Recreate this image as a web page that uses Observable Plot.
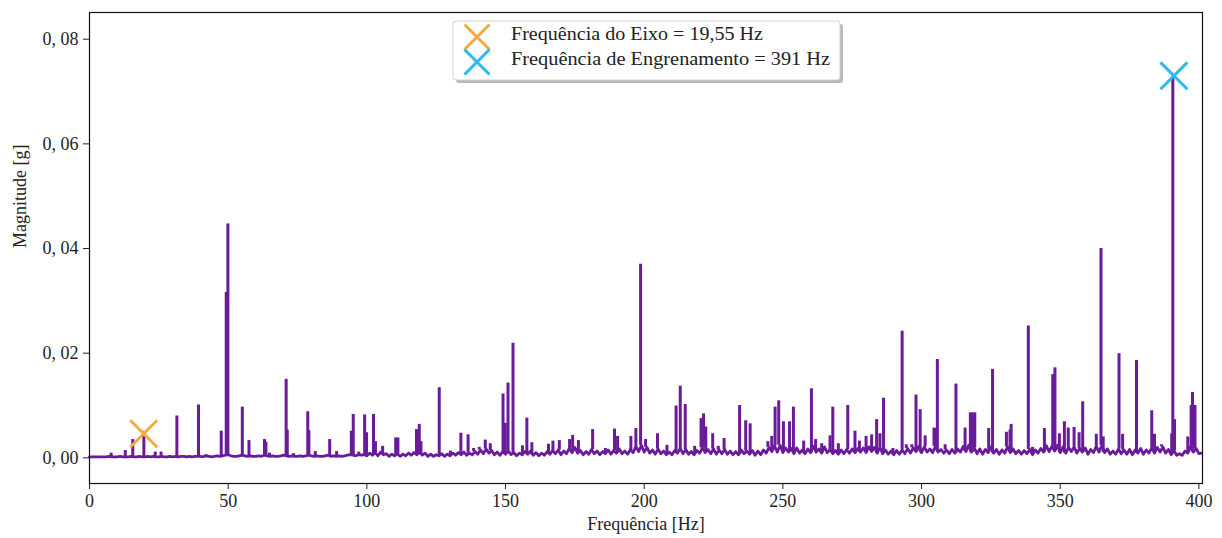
<!DOCTYPE html>
<html>
<head>
<meta charset="utf-8">
<script src="https://cdn.jsdelivr.net/npm/d3@7"></script>
<script src="https://cdn.jsdelivr.net/npm/@observablehq/plot@0.6"></script>
<style>
  html, body { margin: 0; padding: 0; background: #fff; }
  #wrap { position: relative; width: 1222px; height: 538px; font-family: "Liberation Serif", serif; }
  #legend { position: absolute; left: 0; top: 0; pointer-events: none; }
</style>
</head>
<body>
<div id="wrap"></div>
<script>
// ---- data ----
// Peak frequencies (Hz) and magnitudes (g)
const peakFreq = [7.8,12.9,15.6,19.6,23.7,25.8,31.5,39.3,42.0,47.5,49.3,49.9,55.1,57.5,63.1,63.6,64.9,70.9,71.3,73.6,78.7,79.1,81.4,86.6,89.1,94.4,95.1,97.1,99.2,99.9,102.4,103.1,105.7,110.4,111.2,117.9,118.9,119.5,126.1,130.1,133.9,136.5,138.5,140.5,142.7,144.5,149.1,149.9,150.9,152.7,156.1,157.7,159.5,165.5,167.1,169.4,173.1,174.2,176.3,181.4,186.0,189.3,190.4,195.2,197.0,198.7,200.5,204.8,208.2,211.5,213.0,214.8,218.2,220.5,221.4,222.2,224.7,226.7,228.8,234.4,236.6,238.2,244.6,246.0,247.2,248.5,250.2,252.4,253.8,257.5,260.3,261.8,264.0,267.0,268.0,270.0,273.4,276.0,277.6,280.0,282.0,283.8,285.0,286.3,289.7,293.0,294.5,296.5,298.0,299.5,301.3,304.5,305.3,305.7,308.5,312.4,315.7,317.6,318.4,319.2,324.2,325.6,330.6,331.9,332.3,338.5,340.0,344.3,347.3,348.1,349.7,351.5,352.9,355.0,356.8,358.1,363.0,364.7,365.5,371.2,372.5,377.5,383.0,384.0,386.5,390.2,390.6,391.2,396.0,397.2,397.7,398.6];
const peakMag = [0.0009,0.0014,0.0035,0.0050,0.0011,0.0011,0.0080,0.0101,0.0006,0.0051,0.0316,0.0447,0.0097,0.0033,0.0035,0.0030,0.0009,0.0150,0.0053,0.0008,0.0088,0.0052,0.0012,0.0035,0.0012,0.0051,0.0083,0.0011,0.0082,0.0048,0.0083,0.0031,0.0022,0.0038,0.0038,0.0054,0.0064,0.0031,0.0134,0.0013,0.0047,0.0044,0.0018,0.0020,0.0034,0.0027,0.0122,0.0066,0.0143,0.0219,0.0023,0.0076,0.0029,0.0026,0.0032,0.0033,0.0035,0.0043,0.0033,0.0054,0.0018,0.0055,0.0041,0.0041,0.0056,0.0370,0.0035,0.0046,0.0024,0.0099,0.0137,0.0102,0.0022,0.0075,0.0084,0.0059,0.0046,0.0022,0.0037,0.0100,0.0071,0.0065,0.0031,0.0041,0.0097,0.0109,0.0069,0.0069,0.0097,0.0032,0.0132,0.0035,0.0027,0.0042,0.0097,0.0027,0.0100,0.0051,0.0032,0.0041,0.0044,0.0073,0.0046,0.0114,0.0018,0.0242,0.0025,0.0025,0.0120,0.0092,0.0042,0.0057,0.0056,0.0188,0.0025,0.0141,0.0057,0.0086,0.0086,0.0086,0.0056,0.0169,0.0049,0.0053,0.0064,0.0252,0.0020,0.0056,0.0159,0.0172,0.0046,0.0069,0.0057,0.0058,0.0048,0.0107,0.0045,0.0400,0.0040,0.0199,0.0045,0.0186,0.0090,0.0045,0.0025,0.0046,0.0729,0.0073,0.0040,0.0100,0.0125,0.0100];

// Noise floor, one value per Hz from 0 to 401 Hz
const floorStep = 1;
const floorMag = [
0.0002,0.0002,0.0002,0.0002,0.0002,0.0002,0.0002,0.0003,0.0002,0.0002,
0.0002,0.0003,0.0002,0.0002,0.0002,0.0003,0.0002,0.0002,0.0003,0.0002,
0.0002,0.0003,0.0002,0.0003,0.0002,0.0002,0.0003,0.0002,0.0002,0.0003,
0.0002,0.0003,0.0002,0.0003,0.0003,0.0002,0.0003,0.0002,0.0003,0.0003,
0.0003,0.0002,0.0004,0.0003,0.0002,0.0003,0.0004,0.0003,0.0004,0.0005,
0.0006,0.0004,0.0003,0.0003,0.0004,0.0005,0.0004,0.0003,0.0004,0.0003,
0.0003,0.0004,0.0003,0.0005,0.0004,0.0003,0.0004,0.0003,0.0003,0.0004,
0.0005,0.0004,0.0003,0.0004,0.0003,0.0003,0.0004,0.0003,0.0004,0.0005,
0.0004,0.0003,0.0004,0.0003,0.0003,0.0004,0.0005,0.0003,0.0004,0.0003,
0.0004,0.0003,0.0004,0.0005,0.0006,0.0005,0.0004,0.0006,0.0005,0.0006,
0.0004,0.0009,0.0005,0.0010,0.0004,0.0011,0.0006,0.0008,0.0003,0.0007,
0.0004,0.0008,0.0003,0.0007,0.0004,0.0009,0.0005,0.0010,0.0006,0.0012,
0.0005,0.0009,0.0003,0.0007,0.0003,0.0006,0.0004,0.0008,0.0003,0.0007,
0.0004,0.0009,0.0005,0.0010,0.0006,0.0011,0.0005,0.0009,0.0006,0.0012,
0.0007,0.0015,0.0008,0.0017,0.0009,0.0014,0.0006,0.0011,0.0005,0.0012,
0.0007,0.0013,0.0006,0.0010,0.0004,0.0009,0.0006,0.0012,0.0007,0.0013,
0.0005,0.0010,0.0004,0.0009,0.0005,0.0012,0.0007,0.0014,0.0008,0.0015,
0.0006,0.0013,0.0008,0.0018,0.0010,0.0020,0.0009,0.0014,0.0006,0.0012,
0.0007,0.0016,0.0008,0.0013,0.0006,0.0012,0.0008,0.0015,0.0007,0.0014,
0.0009,0.0017,0.0008,0.0013,0.0007,0.0016,0.0010,0.0022,0.0012,0.0024,
0.0011,0.0020,0.0009,0.0015,0.0007,0.0017,0.0008,0.0013,0.0006,0.0011,
0.0006,0.0014,0.0009,0.0018,0.0008,0.0016,0.0007,0.0012,0.0006,0.0014,
0.0009,0.0019,0.0010,0.0016,0.0008,0.0017,0.0007,0.0015,0.0008,0.0016,
0.0007,0.0013,0.0006,0.0012,0.0006,0.0015,0.0008,0.0013,0.0007,0.0014,
0.0005,0.0013,0.0006,0.0015,0.0009,0.0020,0.0012,0.0023,0.0011,0.0024,
0.0010,0.0019,0.0011,0.0018,0.0008,0.0019,0.0009,0.0015,0.0008,0.0017,
0.0010,0.0022,0.0011,0.0017,0.0009,0.0021,0.0010,0.0016,0.0008,0.0014,
0.0007,0.0015,0.0008,0.0016,0.0009,0.0017,0.0010,0.0018,0.0011,0.0019,
0.0010,0.0021,0.0012,0.0020,0.0009,0.0020,0.0008,0.0015,0.0007,0.0013,
0.0006,0.0014,0.0007,0.0015,0.0008,0.0018,0.0009,0.0019,0.0012,0.0022,
0.0010,0.0021,0.0011,0.0017,0.0010,0.0022,0.0011,0.0016,0.0009,0.0015,
0.0008,0.0016,0.0009,0.0017,0.0011,0.0022,0.0012,0.0024,0.0011,0.0019,
0.0008,0.0017,0.0007,0.0016,0.0010,0.0021,0.0009,0.0016,0.0007,0.0015,
0.0009,0.0021,0.0010,0.0017,0.0008,0.0014,0.0007,0.0014,0.0008,0.0016,
0.0006,0.0015,0.0009,0.0018,0.0011,0.0023,0.0012,0.0022,0.0013,0.0024,
0.0010,0.0021,0.0009,0.0020,0.0012,0.0021,0.0009,0.0018,0.0011,0.0019,
0.0007,0.0016,0.0010,0.0022,0.0011,0.0024,0.0010,0.0017,0.0007,0.0013,
0.0007,0.0017,0.0008,0.0015,0.0007,0.0016,0.0006,0.0015,0.0009,0.0018,
0.0007,0.0015,0.0009,0.0019,0.0009,0.0020,0.0011,0.0021,0.0009,0.0016,
0.0006,0.0014,0.0005,0.0008,0.0005,0.0013,0.0009,0.0021,0.0011,0.0018,
0.0008,0.0009];

// Marked frequencies
const markerLabels = ["Frequência do Eixo = 19,55 Hz", "Frequência de Engrenamento = 391 Hz"];
const markerFreq = [19.55, 391];
const markerMag = [0.0046, 0.0730];
const markerColors = ["#F7A941", "#2BB8F3"];

const xTicks = [0, 50, 100, 150, 200, 250, 300, 350, 400];
const yTicks = [0, 0.02, 0.04, 0.06, 0.08];

// ---- tables ----
const floorData = floorMag.map((m, i) => ({f: i * floorStep, m}));
const peakData = peakFreq.map((f, i) => ({
  f, m: peakMag[i],
  b: floorMag[Math.min(floorMag.length - 1, Math.round(f / floorStep))]
}));
const markerData = markerFreq.map((f, i) => ({f, m: markerMag[i], c: markerColors[i]}));

const lineColor = "#6A1B9A";
const font = "Liberation Serif";

const chart = Plot.plot({
  width: 1222,
  height: 538,
  marginLeft: 89,
  marginRight: 20,
  marginTop: 12,
  marginBottom: 55,
  style: {fontFamily: font, fontSize: "18px", color: "#222", background: "#fff"},
  x: {domain: [0, 401.3]},
  y: {domain: [-0.0049, 0.0851]},
  marks: [
    Plot.line(floorData, {x: "f", y: "m", stroke: lineColor, strokeWidth: 2.8, strokeLinejoin: "round"}),
    Plot.ruleX(peakData, {x: "f", y1: "b", y2: "m", stroke: lineColor, strokeWidth: 3}),
    Plot.dot(markerData, {x: "f", y: "m", symbol: "times", r: 12.3, stroke: "c", strokeWidth: 3}),
    Plot.frame({stroke: "#111", strokeWidth: 1.2}),
    Plot.axisX({ticks: xTicks, tickSize: 6, tickPadding: 5, fontSize: 18, label: null, tickFormat: d => String(d)}),
    Plot.axisY({ticks: yTicks, tickSize: 6, tickPadding: 5, fontSize: 18, label: null,
      tickFormat: d => d.toFixed(2).replace(".", ", ")}),
    Plot.text(["Frequência [Hz]"], {frameAnchor: "bottom", dy: 41, fontSize: 18, lineAnchor: "middle"}),
    Plot.text(["Magnitude [g]"], {frameAnchor: "left", dx: -69, rotate: -90, fontSize: 18, lineAnchor: "middle"})
  ]
});

const wrap = document.getElementById("wrap");
wrap.appendChild(chart);

// ---- legend overlay ----
const lg = d3.select(wrap).append("svg")
  .attr("id", "legend").attr("width", 1222).attr("height", 538);
const bx = 453, by = 21, bw = 387, bh = 59;
const textWidths = [252, 319];
lg.append("rect").attr("x", bx + 3).attr("y", by + 3).attr("width", bw).attr("height", bh)
  .attr("rx", 3).attr("fill", "#b8b8b8");
lg.append("rect").attr("x", bx).attr("y", by).attr("width", bw).attr("height", bh)
  .attr("rx", 3).attr("fill", "#fff").attr("stroke", "#d0d0d0").attr("stroke-width", 1);
markerLabels.forEach((t, i) => {
  const cy = 37 + i * 25, cx = 477, h = 12.5;
  lg.append("path")
    .attr("d", `M${cx - h},${cy - h}L${cx + h},${cy + h}M${cx - h},${cy + h}L${cx + h},${cy - h}`)
    .attr("stroke", markerColors[i]).attr("stroke-width", 3).attr("fill", "none");
  lg.append("text").attr("x", 511).attr("y", cy - 1)
    .attr("font-family", font).attr("font-size", 18).attr("fill", "#222")
    .attr("dominant-baseline", "middle")
    .attr("textLength", textWidths[i]).attr("lengthAdjust", "spacingAndGlyphs")
    .text(t);
});
</script>
</body>
</html>
